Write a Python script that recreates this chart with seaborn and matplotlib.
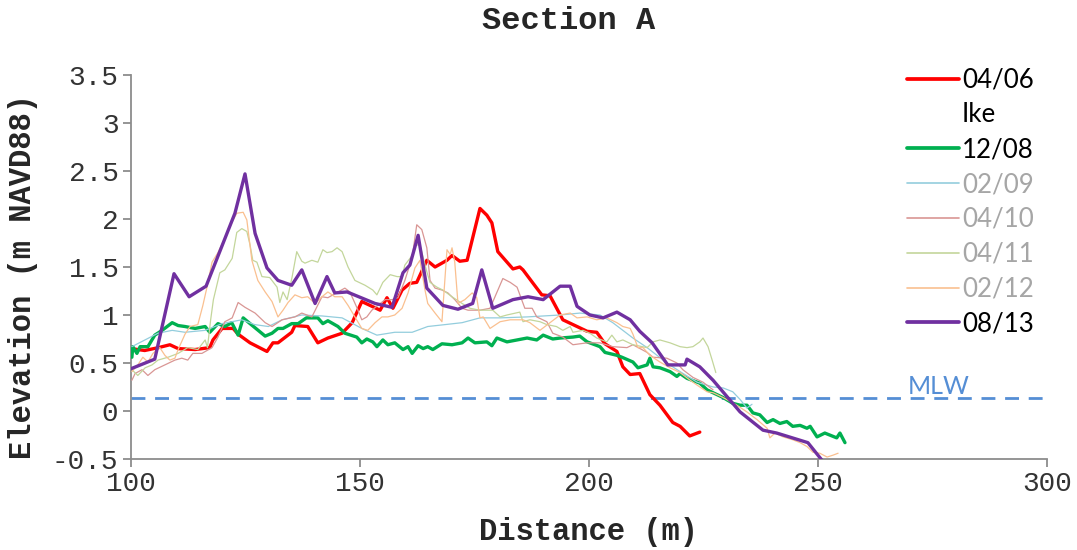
import matplotlib
matplotlib.use("Agg")
import matplotlib.pyplot as plt
from matplotlib.lines import Line2D
import seaborn as sns

# Beach profile surveys, Section A: distance offshore (m) vs elevation (m NAVD88)
x_0406 = [100, 103, 106, 108.5, 110.3, 114, 117.2, 117.9, 119.9, 122.3, 123.4, 126, 129.7, 131, 132.1,
          135.1, 135.8, 138.6, 140.8, 143, 146.1, 148.3, 150.4, 152.2, 154.4, 155.9, 157.2, 159.2, 160.9,
          162.4, 164.6, 166.4, 169, 170.1, 171.8, 173.4, 176.2, 177.7, 178.8, 180.1, 183.4, 184.9, 185.6,
          187.8, 189.7, 191.5, 194.3, 197.4, 199.6, 201.7, 203.5, 206.1, 207.4, 209, 211.1, 213.3, 215.5,
          218.3, 219.9, 222, 224.2]
y_0406 = [0.65, 0.63, 0.66, 0.69, 0.65, 0.64, 0.66, 0.74, 0.86, 0.86, 0.8, 0.71, 0.62, 0.71, 0.71,
          0.82, 0.89, 0.88, 0.71, 0.76, 0.81, 0.92, 1.14, 1.1, 1.05, 1.18, 1.07, 1.26, 1.33,
          1.34, 1.57, 1.5, 1.57, 1.62, 1.56, 1.57, 2.11, 2.04, 1.96, 1.66, 1.48, 1.5, 1.47,
          1.33, 1.21, 1.2, 0.95, 0.88, 0.83, 0.82, 0.7, 0.62, 0.46, 0.38, 0.39, 0.17, 0.06,
          -0.12, -0.16, -0.26, -0.22]

x_1208 = [100.2, 100.4, 101.3, 102, 103.7, 105.2, 106.8, 109, 110.3, 111.8, 114, 116.2, 117.2, 119,
          120.5, 122, 123.4, 124.5, 126, 129.3, 130.8, 132.1, 133.2, 135.1, 136.5, 138.3, 140.8, 141.9,
          143, 144.1, 145.2, 146.7, 149.3, 150.4, 151.5, 152.8, 153.7, 155, 156.1, 157.6, 159.4, 160.5,
          161.4, 162.7, 163.8, 164.8, 165.9, 167.9, 170.1, 172.3, 173.6, 175.1, 177.7, 178.8, 179.9,
          182.1, 184.3, 186.5, 188.6, 190, 192.1, 193.7, 196.5, 198, 199.6, 201.3, 202.4, 203.5, 206.1,
          207.2, 209.6, 210.7, 212.7, 213.3, 214, 215.5, 217.7, 219.2, 219.9, 221.4, 224.2, 225.8,
          227.1, 229.3, 231.4, 233, 234.5, 235.8, 237.3, 238.9, 240.2, 241.7, 243.2, 244.5, 246.1,
          247.6, 248.3, 249.8, 251.5, 254.1, 254.8, 255.9]
y_1208 = [0.56, 0.67, 0.6, 0.67, 0.67, 0.79, 0.84, 0.92, 0.89, 0.88, 0.86, 0.88, 0.82, 0.91,
          0.88, 0.92, 0.79, 0.97, 0.91, 0.78, 0.81, 0.86, 0.86, 0.91, 0.91, 0.97, 0.97, 0.91,
          0.94, 0.91, 0.88, 0.81, 0.77, 0.71, 0.75, 0.72, 0.67, 0.74, 0.69, 0.71, 0.64, 0.67,
          0.6, 0.68, 0.65, 0.67, 0.64, 0.7, 0.69, 0.71, 0.76, 0.71, 0.72, 0.68, 0.76,
          0.72, 0.74, 0.76, 0.74, 0.79, 0.75, 0.76, 0.77, 0.78, 0.72, 0.69, 0.67, 0.61, 0.58,
          0.56, 0.51, 0.45, 0.48, 0.55, 0.46, 0.45, 0.41, 0.36, 0.39, 0.34, 0.29, 0.22,
          0.19, 0.14, 0.08, 0.06, 0.06, -0.02, -0.04, -0.12, -0.09, -0.13, -0.11, -0.16, -0.15,
          -0.18, -0.16, -0.27, -0.23, -0.28, -0.23, -0.33]

x_0209 = [100.2, 105.9, 109, 111.8, 116.2, 119.9, 124.2, 127, 130, 133, 137.3, 141.7, 146.1, 150.4,
          153.7, 157.6, 161.4, 164.8, 168.6, 172.3, 176.2, 180.6, 186.5, 193.7, 198, 202.4, 205.2,
          209.6, 212.7, 217, 219.9, 223.6, 227.1, 229.3, 231.4, 233, 234.5, 235.6]
y_0209 = [0.67, 0.81, 0.84, 0.82, 0.84, 0.91, 0.95, 0.9, 0.88, 0.95, 1.0, 0.99, 0.97, 0.86,
          0.79, 0.82, 0.82, 0.88, 0.9, 0.92, 0.97, 0.97, 0.98, 1.0, 1.02, 1.0, 0.92,
          0.76, 0.66, 0.5, 0.41, 0.3, 0.25, 0.24, 0.2, 0.12, 0.03, 0.07]

x_0410 = [100.2, 100.9, 102.4, 103.7, 105.2, 107.4, 109.6, 111.1, 112.4, 113.5, 115.5, 117.7, 119,
          120.5, 122.1, 123.4, 124.9, 127.1, 129.3, 130.8, 133, 135.8, 137.3, 139.5, 141.7, 143,
          145.2, 146.7, 147.8, 149.3, 150.4, 151.5, 152.6, 153.9, 155.5, 157, 158.3, 159.8, 161.4,
          162.4, 163.5, 164.6, 165.3, 166.4, 167.9, 169.2, 170.7, 172.3, 173.6, 175.1, 176.2, 178.4,
          181.2, 182.8, 184.3, 186, 187.6, 188.6, 190.8, 192.1, 194.3, 196.5, 199.6, 202.4, 205.2,
          208.3, 209.6, 212.7, 214, 217, 219.2, 220.5, 222.7, 224.9, 227.1]
y_0410 = [0.32, 0.39, 0.43, 0.37, 0.43, 0.48, 0.53, 0.55, 0.53, 0.6, 0.6, 0.66, 0.77,
          0.93, 0.97, 1.13, 1.08, 1.02, 0.92, 0.88, 0.95, 0.98, 1.02, 0.98, 1.19, 1.18,
          1.24, 1.28, 1.24, 1.08, 0.95, 0.98, 1.05, 1.1, 1.16, 1.16, 1.18, 1.36, 1.6,
          1.94, 1.89, 1.7, 1.36, 1.28, 1.26, 1.23, 1.16, 1.07, 1.05, 1.05, 1.05, 1.07,
          1.38, 1.34, 1.29, 1.07, 1.07, 0.98, 0.93, 0.81, 0.77, 0.69, 0.71, 0.71, 0.67,
          0.66, 0.69, 0.61, 0.56, 0.55, 0.5, 0.43, 0.35, 0.3, 0.22]

x_0411 = [100.2, 101.5, 103.1, 104.6, 105.9, 108.1, 110.3, 112.4, 114.6, 116.2, 116.7, 117.4, 118,
          119.4, 120.5, 122.1, 123.1, 124.2, 125.3, 126, 126.6, 127.5, 128.6, 130.3, 131.9, 132.5,
          133.2, 134.1, 135.2, 136.2, 137.3, 138, 139.5, 140.8, 141.9, 142.8, 143.9, 145, 146.1,
          147.4, 148.9, 151.1, 152.8, 153.7, 154.4, 155, 156.6, 158.1, 159.2, 159.8, 161.4, 162,
          163.1, 163.8, 164.6, 165.3, 166.8, 168.1, 170.1, 172.3, 174, 176.2, 179, 180.6, 182.1,
          184.9, 185.6, 187.1, 189.3, 190.8, 192.9, 194.3, 195.9, 196.5, 198.7, 200.2, 201.7,
          203.9, 205, 206.1, 207.4, 209.6, 212.7, 214, 215.5, 217.7, 219.9, 221.4, 222.7, 224.2,
          224.9, 226, 226.9, 227.7]
y_0411 = [0.43, 0.37, 0.45, 0.48, 0.53, 0.56, 0.6, 0.66, 0.64, 0.74, 0.66, 0.95, 1.16,
          1.44, 1.47, 1.59, 1.86, 1.9, 1.87, 1.73, 1.57, 1.55, 1.4, 1.39, 1.29, 1.13,
          1.24, 1.16, 1.4, 1.66, 1.56, 1.54, 1.57, 1.55, 1.68, 1.65, 1.66, 1.7, 1.66,
          1.5, 1.36, 1.31, 1.26, 1.21, 1.28, 1.34, 1.42, 1.4, 1.4, 1.52, 1.62, 1.73,
          1.73, 1.6, 1.45, 1.34, 1.29, 1.26, 1.19, 1.12, 1.07, 1.05, 1.05, 0.98, 1.0,
          1.03, 0.93, 0.95, 0.93, 0.9, 0.88, 0.84, 0.88, 0.82, 0.84, 0.81, 0.76,
          0.72, 0.79, 0.72, 0.74, 0.69, 0.66, 0.72, 0.74, 0.71, 0.67, 0.66, 0.67, 0.72,
          0.76, 0.67, 0.53, 0.4]

x_0212 = [100.2, 101.5, 102.6, 103.7, 104.8, 106.3, 107.4, 108.5, 109.6, 110.3, 111.8, 112.9, 114.6,
          115.7, 116.6, 117.7, 119, 120.5, 122.1, 123.1, 124.5, 125.3, 126.4, 127.7, 129.3, 130.8,
          132.1, 133.2, 134.3, 135.8, 137.3, 138.6, 140.2, 141.7, 143, 144.5, 146.1, 147.4, 148.9,
          150.4, 151.7, 153.3, 154.8, 156.1, 157.6, 159.2, 160.5, 162, 163.1, 164.2, 164.8, 166.4,
          167.9, 169, 169.7, 170.1, 170.7, 171.4, 172.9, 174.5, 175.5, 176.2, 176.9, 178.4, 180.6,
          182.8, 185.6, 187.1, 189.3, 191.5, 193.7, 195.9, 197.4, 199.6, 201.7, 203.9, 206.1, 207.4,
          209, 209.6, 210.7, 211.8, 213.3, 215.5, 217.7, 219.9, 222.1, 224.2, 225.8, 227.1, 229.3,
          232.3, 234.5, 236.7, 238.9, 239.5, 240.6, 242.4, 244.5, 246.1, 247.6, 248.9, 250.4, 252,
          253.3, 254.4]
y_0212 = [0.41, 0.48, 0.56, 0.51, 0.6, 0.66, 0.58, 0.53, 0.55, 0.64, 0.8, 0.88, 0.9,
          1.1, 1.29, 1.55, 1.65, 1.8, 1.97, 2.06, 2.07, 1.99, 1.57, 1.36, 1.24, 1.14,
          0.98, 1.05, 1.13, 1.21, 1.18, 1.19, 1.12, 1.19, 1.24, 1.19, 1.19, 1.1, 0.98,
          0.86, 0.84, 0.92, 0.98, 0.98, 1.0, 1.07, 1.23, 1.49, 1.57, 1.26, 1.12, 1.02,
          0.93, 1.68, 1.63, 1.7, 1.55, 1.12, 1.16, 1.23, 1.18, 0.97, 0.98, 0.86, 0.93,
          0.95, 0.95, 0.92, 0.84, 0.92, 1.0, 1.02, 0.97, 0.98, 0.95, 0.97, 0.92, 0.88,
          0.86, 0.8, 0.66, 0.66, 0.58, 0.51, 0.45, 0.4, 0.32, 0.25, 0.2, 0.19, 0.14,
          0.06, -0.01, -0.09, -0.18, -0.28, -0.23, -0.27, -0.3, -0.33, -0.37, -0.43, -0.44, -0.48,
          -0.46, -0.44]

x_0813 = [100, 105.2, 109.4, 112.7, 116.4, 122.7, 124.9, 127.1, 129.7, 132.1, 135.1, 137.3, 140.2,
          142.8, 144.5, 147.2, 153.3, 157, 159.4, 160.9, 162.7, 164.6, 168.1, 171.4, 174.6, 176.6,
          179, 183.4, 186.7, 190, 193.7, 195.9, 197.4, 200.2, 203.1, 206.1, 209, 211.1, 213.8,
          217.2, 221, 221.4, 224.2, 227.1, 233, 238, 241, 247.8, 251]
y_0813 = [0.44, 0.54, 1.43, 1.19, 1.3, 2.06, 2.47, 1.85, 1.49, 1.36, 1.31, 1.47, 1.12,
          1.4, 1.23, 1.24, 1.12, 1.08, 1.44, 1.52, 1.83, 1.28, 1.1, 1.06, 1.12, 1.47,
          1.07, 1.16, 1.19, 1.16, 1.3, 1.3, 1.09, 1.0, 0.97, 1.03, 0.95, 0.83, 0.71,
          0.48, 0.48, 0.54, 0.46, 0.32, -0.01, -0.2, -0.23, -0.33, -0.52]

mlw_level = 0.14
x_ticks = [100, 150, 200, 250, 300]
y_ticks = [-0.5, 0, 0.5, 1, 1.5, 2, 2.5, 3, 3.5]
y_tick_labels = ["-0.5", "0", "0.5", "1", "1.5", "2", "2.5", "3", "3.5"]

sns.set_theme(style="white")
plt.rcParams["font.family"] = ["Liberation Mono", "DejaVu Sans"]

fig = plt.figure(figsize=(10.77, 5.5), dpi=100)
ax = fig.add_axes([0.1216, 0.1655, 0.8505, 0.6981])

# survey series: (label, x, y, colour, width)
series = [
    ("04/06", x_0406, y_0406, "#ff0000", 2.4),
    ("12/08", x_1208, y_1208, "#00b050", 2.4),
    ("02/09", x_0209, y_0209, "#93cddd", 0.9),
    ("04/10", x_0410, y_0410, "#d99694", 0.9),
    ("04/11", x_0411, y_0411, "#c3d69b", 0.9),
    ("02/12", x_0212, y_0212, "#fac090", 0.9),
    ("08/13", x_0813, y_0813, "#7030a0", 2.4),
]
lines = {}
for i, (lab, xs, ys, col, lw) in enumerate(series):
    sns.lineplot(x=xs, y=ys, ax=ax, color=col, linewidth=lw, sort=False,
                 estimator=None, legend=False, zorder=3 + i)
    lines[lab] = Line2D([], [], color=col, linewidth=lw + 0.3)

# mean low water reference
ax.axhline(mlw_level, color="#558ed5", linewidth=2.0, linestyle=(0, (5, 3.5)), zorder=2)
ax.text(269.5, mlw_level + 0.0, "MLW", color="#558ed5", fontsize=18,
        family=["Lato", "DejaVu Sans"], va="bottom", ha="left")

ax.set_xlim(100, 300)
ax.set_ylim(-0.5, 3.5)
ax.set_xticks(x_ticks)
ax.set_xticklabels([str(v) for v in x_ticks])
ax.set_yticks(y_ticks)
ax.set_yticklabels(y_tick_labels)
for s in ["top", "right"]:
    ax.spines[s].set_visible(False)
for s in ["left", "bottom"]:
    ax.spines[s].set_color("#8c8c8c")
    ax.spines[s].set_linewidth(1.3)
ax.tick_params(axis="both", which="major", direction="out", length=6, width=1.3,
               color="#8c8c8c", labelsize=20, labelcolor="#333333", pad=3,
               left=True, bottom=True)
ax.grid(False)

ax.set_xlabel("Distance (m)", fontsize=22, fontweight="bold")
ax.set_ylabel("Elevation (m NAVD88)", fontsize=22, fontweight="bold")
ax.xaxis.set_label_coords(0.5, -0.152)
ax.yaxis.set_label_coords(-0.102, 0.475)
fig.text(0.528, 0.962, "Section A", ha="center", va="center", fontsize=23, fontweight="bold")

order = ["04/06", "Ike", "12/08", "02/09", "04/10", "04/11", "02/12", "08/13"]
handles = []
for lab in order:
    if lab == "Ike":
        handles.append(Line2D([], [], color="none"))
    else:
        handles.append(lines[lab])
leg = fig.legend(handles, order, loc="upper left", bbox_to_anchor=(0.8424, 0.877),
                 frameon=False, prop={"family": ["Lato", "DejaVu Sans"], "size": 18.6},
                 handlelength=2.0, handletextpad=0.12, labelspacing=0.38,
                 borderaxespad=0, borderpad=0)
grey_labels = {"02/09", "04/10", "04/11", "02/12"}
for t in leg.get_texts():
    t.set_color("#a6a6a6" if t.get_text() in grey_labels else "#000000")

fig.savefig("out.png", dpi=100)
